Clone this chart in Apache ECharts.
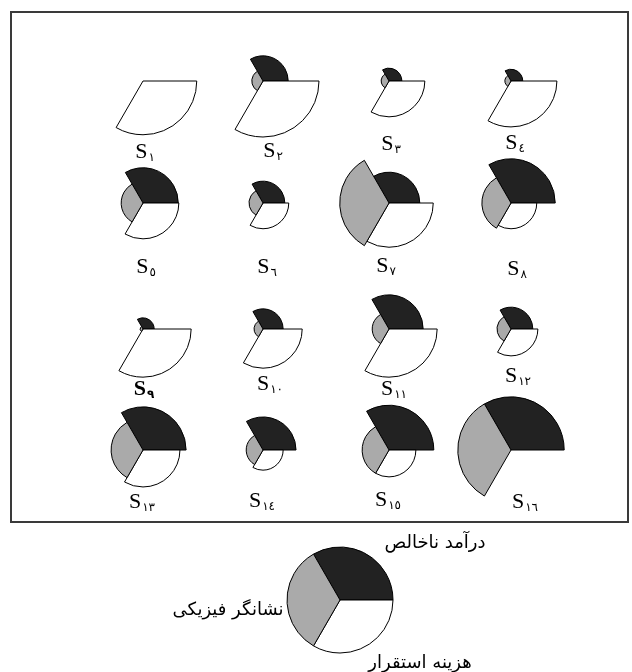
<!DOCTYPE html>
<html>
<head>
<meta charset="utf-8">
<script src="https://cdn.jsdelivr.net/npm/echarts@6/dist/echarts.min.js"></script>
<style>
  html, body { margin: 0; padding: 0; background: #fff; }
  #chart { width: 632px; height: 672px; }
</style>
</head>
<body>
<div id="chart"></div>
<script>
// three variables, in the order they sit on the angle axis (clockwise from 120deg)
const variables = ['درآمد ناخالص', 'هزینه استقرار', 'نشانگر فیزیکی']
const varColors = ['#222222', '#ffffff', '#aaaaaa']

// standardised values for the 16 sites (0..1)
const grossIncome = [0, 0.45, 0.23, 0.21, 0.63, 0.39, 0.55, 0.79, 0.20, 0.36, 0.61, 0.39, 0.77, 0.59, 0.80, 0.95]
const setupCost = [0.96, 1.00, 0.64, 0.82, 0.64, 0.46, 0.79, 0.46, 0.86, 0.70, 0.86, 0.48, 0.66, 0.36, 0.48, 0]
const physicalIndex = [0, 0.20, 0.14, 0.11, 0.39, 0.25, 0.88, 0.52, 0.05, 0.16, 0.30, 0.25, 0.57, 0.30, 0.48, 0.95]

const siteNames = ['۱', '۲', '۳', '٤', '٥', '٦', '۷', '۸', '۹', '۱۰', '۱۱', '۱۲', '۱۳', '۱٤', '۱٥', '۱٦']
const legendValues = [1, 1, 1]

// layout
const colX = [143, 263, 389, 511]
const rowY = [81, 203, 329, 450]
const R = 56
const labelXY = [
  [145, 153], [273, 152], [391, 145], [515, 144],
  [146, 268], [267, 268], [386, 267], [517, 270],
  [144, 390], [270, 385], [394, 390], [518, 377],
  [142, 503], [262, 502], [388, 501], [525, 503],
]
const boldLabel = [8]

const polar = []
const angleAxis = []
const radiusAxis = []
const series = []
const title = []

function addGlyph(idx, center, radius, values) {
  polar.push({ center: center, radius: radius })
  angleAxis.push({ polarIndex: idx, type: 'category', data: variables, startAngle: 120, show: false })
  radiusAxis.push({ polarIndex: idx, min: 0, max: 1, show: false })
  series.push({
    type: 'bar',
    coordinateSystem: 'polar',
    polarIndex: idx,
    barCategoryGap: '0%',
    silent: true,
    animation: false,
    data: values.map((v, k) => ({
      value: v > 0 ? v : '-',
      itemStyle: { color: varColors[k], borderColor: '#000', borderWidth: 1 },
    })),
  })
}

for (let i = 0; i < 16; i++) {
  const c = [colX[i % 4], rowY[Math.floor(i / 4)]]
  addGlyph(i, c, R, [grossIncome[i], setupCost[i], physicalIndex[i]])
  const bold = boldLabel.includes(i) ? 'bold' : 'normal'
  title.push({
    text: '{s|S}{d|' + siteNames[i] + '}',
    left: labelXY[i][0],
    top: labelXY[i][1],
    textAlign: 'center',
    textVerticalAlign: 'middle',
    padding: 0,
    textStyle: {
      rich: {
        s: { fontFamily: 'Liberation Serif', fontSize: 22, fontWeight: bold, color: '#000', lineHeight: 24, verticalAlign: 'top' },
        d: { fontFamily: 'DejaVu Sans', fontSize: 12, fontWeight: bold, color: '#000', lineHeight: 12, padding: [11, 0, 0, 1], verticalAlign: 'top' },
      },
    },
  })
}

// key glyph
addGlyph(16, [340, 600], 53, legendValues)

const labelFont = { fontFamily: 'DejaVu Sans', fontSize: 18, fill: '#000', textAlign: 'center', textVerticalAlign: 'middle' }

const option = {
  animation: false,
  title: title,
  polar: polar,
  angleAxis: angleAxis,
  radiusAxis: radiusAxis,
  series: series,
  graphic: [
    { type: 'rect', shape: { x: 11, y: 12, width: 617, height: 510 }, style: { fill: 'none', stroke: '#3a3a3a', lineWidth: 2 }, z: -1 },
    { type: 'text', x: 435, y: 543, style: Object.assign({ text: variables[0] }, labelFont) },
    { type: 'text', x: 228, y: 610, style: Object.assign({ text: variables[2] }, labelFont) },
    { type: 'text', x: 420, y: 663, style: Object.assign({ text: variables[1] }, labelFont) },
  ],
}

const chart = echarts.init(document.getElementById('chart'))
chart.setOption(option)
</script>
</body>
</html>
